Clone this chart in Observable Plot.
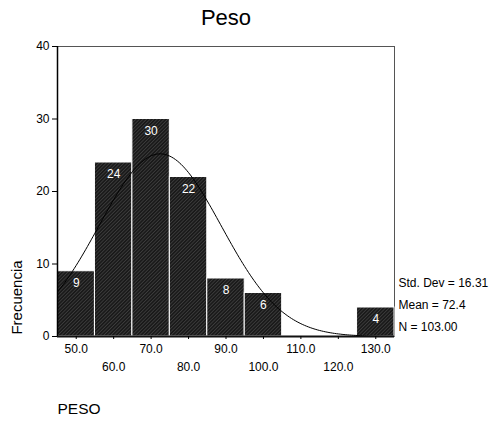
<!DOCTYPE html>
<html>
<head>
<meta charset="utf-8">
<script src="https://cdn.jsdelivr.net/npm/d3@7"></script>
<script src="https://cdn.jsdelivr.net/npm/@observablehq/plot@0.6"></script>
<style>
  html, body { margin: 0; padding: 0; background: #fff; }
  svg { font-family: "Liberation Sans", Arial, sans-serif; }
</style>
</head>
<body>
<div id="chart"></div>
<script>
const binStarts = [45, 55, 65, 75, 85, 95, 105, 115, 125];
const counts = [9, 24, 30, 22, 8, 6, 0, 0, 4];
const binWidth = 10;
const stdDev = 16.31;
const mean = 72.4;
const nObs = 103;
const xTicksRow1 = [50, 70, 90, 110, 130];
const xTicksRow2 = [60, 80, 100, 120];
const yTicks = [0, 10, 20, 30, 40];
const statLabels = ["Std. Dev = 16.31", "Mean = 72.4", "N = 103.00"];

const bins = binStarts.map((s, i) => ({x1: s, x2: s + binWidth, count: counts[i]}));
const nonzero = bins.filter(d => d.count > 0);

// fitted normal curve from the displayed statistics
const curve = d3.range(45, 135.01, 0.5).map(x => ({
  x,
  y: nObs * binWidth / (stdDev * Math.sqrt(2 * Math.PI)) * Math.exp(-0.5 * ((x - mean) / stdDev) ** 2)
}));

const fmt = d3.format(".1f");
const statDy = [-53, -31, -9];

const svg = Plot.plot({
  width: 492,
  height: 421,
  marginLeft: 57,
  marginRight: 98,
  marginTop: 46,
  marginBottom: 85,
  style: {fontFamily: "'Liberation Sans', Arial, sans-serif", fontSize: "12px", color: "#000", background: "#fff"},
  x: {domain: [45, 135]},
  y: {domain: [0, 40]},
  marks: [
    Plot.frame({stroke: "#555"}),
    Plot.rectY(nonzero, {x1: "x1", x2: "x2", y: "count", fill: "url(#hatch)", stroke: "#fff", strokeWidth: 1}),
    Plot.ruleY([0], {stroke: "#111", strokeWidth: 2}),
    Plot.ruleX([45], {stroke: "#000", strokeWidth: 1.5}),
    Plot.line(curve, {x: "x", y: "y", stroke: "#000", strokeWidth: 1, clip: true}),
    Plot.text(nonzero, {x: d => (d.x1 + d.x2) / 2, y: "count", text: d => String(d.count), dy: 12, fill: "#fff", fontSize: 12}),
    Plot.axisY({ticks: yTicks, tickSize: 5, tickPadding: 3, label: null, tickFormat: d => String(d), fontSize: 12}),
    Plot.axisX({ticks: xTicksRow1, tickSize: 3, tickPadding: 5, label: null, tickFormat: fmt, fontSize: 12}),
    Plot.axisX({ticks: xTicksRow2, tickSize: 3, tickPadding: 23, label: null, tickFormat: fmt, fontSize: 12}),
    Plot.text(["Peso"], {frameAnchor: "top", lineAnchor: "middle", dy: -28.5, dx: 0, fontSize: 22, fill: "#000"}),
    Plot.text(["PESO"], {frameAnchor: "bottom-left", lineAnchor: "middle", dy: 73, textAnchor: "start", fontSize: 15.5, fill: "#000"}),
    Plot.text(["Frecuencia"], {frameAnchor: "left", textAnchor: "middle", lineAnchor: "middle", dx: -40, dy: 106, rotate: -90, fontSize: 15, fill: "#000"}),
    ...statLabels.map((s, i) => Plot.text([s], {frameAnchor: "bottom-right", textAnchor: "start", lineAnchor: "middle", dx: 4, dy: statDy[i], fontSize: 12, fill: "#000"}))
  ]
});

const defs = d3.select(svg).insert("defs", ":first-child");
const pat = defs.append("pattern")
  .attr("id", "hatch")
  .attr("width", 2.5).attr("height", 2.5)
  .attr("patternUnits", "userSpaceOnUse")
  .attr("patternTransform", "rotate(45)");
pat.append("rect").attr("width", 2.5).attr("height", 2.5).attr("fill", "#1a1a1a");
pat.append("line").attr("x1", 0).attr("y1", 0).attr("x2", 0).attr("y2", 2.5)
  .attr("stroke", "#5a5a5a").attr("stroke-width", 0.9);

document.getElementById("chart").appendChild(svg);
</script>
</body>
</html>
